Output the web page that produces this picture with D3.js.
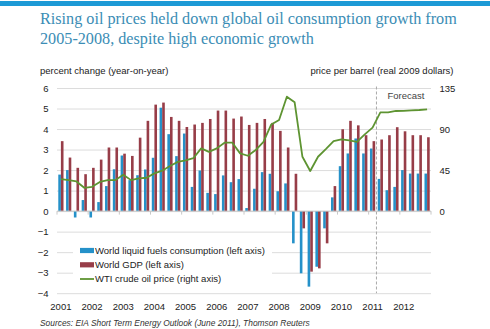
<!DOCTYPE html>
<html>
<head>
<meta charset="utf-8">
<script src="https://cdn.jsdelivr.net/npm/d3@7"></script>
<style>
  body { margin: 0; background: #fff; }
  svg text { font-family: "Liberation Sans", Arial, sans-serif; }
</style>
</head>
<body>
<svg id="chart" width="490" height="329"></svg>
<script>
// quarterly data, 2001 Q1 .. 2012 Q4
var years = [2001, 2002, 2003, 2004, 2005, 2006, 2007, 2008, 2009, 2010, 2011, 2012]
var quarters = []
years.forEach(function(y){
  for (var q = 1; q <= 4; q++) quarters.push(y + " Q" + q)
})

// world liquid fuels consumption, % change yoy (left axis)
var consumption = [1.78, 2.0, -0.31, 0.54, -0.31, 0.44, 1.22, 2.04,
  2.71, 1.51, 1.75, 2.03, 2.6, 5.04, 3.75, 2.68,
  3.78, 1.18, 1.98, 0.89, 0.83, 1.74, 1.41, 1.56,
  0.15, 1.09, 1.9, 1.82, 0.97, 1.35, -1.57, -3.03,
  -3.68, -2.71, -0.84, 0.67, 2.19, 2.81, 3.54, 2.81,
  3.05, 1.57, 1.02, 1.18, 2.0, 1.83, 1.83, 1.83]

// world GDP, % change yoy (left axis)
var gdp = [3.41, 2.61, 2.11, 1.8, 2.11, 2.51, 3.1, 3.1,
  2.8, 2.69, 3.58, 4.4, 5.19, 5.29, 4.59, 4.4,
  4.1, 4.22, 4.3, 4.49, 4.9, 4.9, 4.51, 4.61,
  4.2, 4.3, 4.49, 4.3, 3.91, 3.1, 1.82, -0.84,
  -2.95, -2.79, -1.57, 1.22, 3.99, 4.4, 4.18, 3.7,
  3.41, 3.49, 3.7, 4.09, 3.89, 3.7, 3.7, 3.6]

// WTI crude oil price, real 2009 $ per barrel (right axis)
var wti = [35, 34, 32.5, 25.6, 26.7, 32, 34, 34,
  40, 34, 36, 36.6, 41.4, 44.3, 49.4, 54,
  55.6, 58, 68.8, 65, 68.8, 75, 75, 63.3,
  60.7, 67, 76, 95, 100, 125.5, 119.3, 59.6,
  44, 59.6, 68, 76.8, 78.7, 77.6, 76, 84.2,
  91.5, 108.3, 108.3, 109.8, 110, 110.5, 110.9, 111.6]

var leftTicks = [-4, -3, -2, -1, 0, 1, 2, 3, 4, 5, 6]
var rightTicks = [0, 45, 90, 135]
var forecastStart = "2011 Q2"

var series = ["World liquid fuels consumption (left axis)", "World GDP (left axis)", "WTI crude oil price (right axis)"]
var colors = ["#2591c9", "#973d48", "#5e9432"]

var svg = d3.select("#chart")
var plotL = 57, plotR = 431, plotT = 88, plotB = 293.2

// top banner
svg.append("rect").attr("x", 0).attr("y", 1).attr("width", 490).attr("height", 5).attr("fill", "#1d9ad6")

// title
svg.append("text").attr("x", 40).attr("y", 23.5)
  .style("font-family", "'Liberation Serif', 'Times New Roman', serif")
  .attr("font-size", "16.2px").attr("fill", "#3b8db5")
  .text("Rising oil prices held down global oil consumption growth from")
svg.append("text").attr("x", 40).attr("y", 43.5)
  .style("font-family", "'Liberation Serif', 'Times New Roman', serif")
  .attr("font-size", "16.2px").attr("fill", "#3b8db5")
  .text("2005-2008, despite high economic growth")

// axis titles
svg.append("text").attr("x", 40).attr("y", 74).attr("font-size", "9.5px").attr("fill", "#222")
  .text("percent change (year-on-year)")
svg.append("text").attr("x", 453.5).attr("y", 74).attr("font-size", "9.5px").attr("fill", "#222")
  .attr("text-anchor", "end")
  .text("price per barrel (real 2009 dollars)")

var x0 = d3.scaleBand().domain(quarters).range([plotL, plotR]).paddingInner(0.33).paddingOuter(0.165)
var x1 = d3.scaleBand().domain(["c", "g"]).range([0, x0.bandwidth()])
var y = d3.scaleLinear().domain([-4, 6]).range([plotB, plotT])
var yR = d3.scaleLinear().domain([-90, 135]).range([plotB, plotT])

// left axis + gridlines
var gy = svg.append("g").attr("transform", "translate(" + plotL + ",0)")
  .call(d3.axisLeft(y).tickValues(leftTicks).tickSize(-(plotR - plotL)).tickPadding(8.5).tickFormat(d3.format("d")))
gy.select(".domain").remove()
gy.selectAll("line").attr("stroke", "#dcdcdc")
gy.selectAll("text").attr("font-size", "9.5px").attr("fill", "#222").style("font-family", "'Liberation Sans', Arial, sans-serif")

// right axis labels
var gr = svg.append("g").attr("transform", "translate(" + plotR + ",0)")
  .call(d3.axisRight(yR).tickValues(rightTicks).tickSize(0).tickPadding(8.5))
gr.select(".domain").remove()
gr.selectAll("text").attr("font-size", "9.5px").attr("fill", "#222").style("font-family", "'Liberation Sans', Arial, sans-serif")

// legend background hides part of the gridlines
svg.append("rect").attr("x", 73).attr("y", 236).attr("width", 199).attr("height", 52).attr("fill", "#fff")

// forecast divider
var half = x0.step() * x0.paddingInner() / 2
var fx = x0(forecastStart) - half
svg.append("line").attr("x1", fx).attr("x2", fx).attr("y1", 86.5).attr("y2", plotB)
  .attr("stroke", "#aaa").attr("stroke-dasharray", "3,2")
svg.append("text").attr("x", 406).attr("y", 98.5).attr("text-anchor", "middle")
  .attr("font-size", "9.5px").attr("fill", "#444").text("Forecast")

// bars
var bars = svg.append("g")
bars.selectAll(".cons").data(consumption).enter().append("rect")
  .attr("x", function(d, i){ return x0(quarters[i]) + x1("c") })
  .attr("width", x1.bandwidth())
  .attr("y", function(d){ return y(Math.max(0, d)) })
  .attr("height", function(d){ return Math.abs(y(d) - y(0)) })
  .attr("fill", colors[0])
bars.selectAll(".gdp").data(gdp).enter().append("rect")
  .attr("x", function(d, i){ return x0(quarters[i]) + x1("g") })
  .attr("width", x1.bandwidth())
  .attr("y", function(d){ return y(Math.max(0, d)) })
  .attr("height", function(d){ return Math.abs(y(d) - y(0)) })
  .attr("fill", colors[1])

// zero line with year ticks
svg.append("line").attr("x1", plotL).attr("x2", plotR).attr("y1", y(0)).attr("y2", y(0)).attr("stroke", "#c8c8c8")
var bounds = years.map(function(yr){ return x0(yr + " Q1") - half }).concat([plotR])
svg.selectAll(".ytick").data(bounds).enter().append("line")
  .attr("x1", function(d){ return d }).attr("x2", function(d){ return d })
  .attr("y1", y(0)).attr("y2", y(0) + 3.5).attr("stroke", "#c8c8c8")

// oil price line
var line = d3.line()
  .x(function(d, i){ return x0(quarters[i]) + x0.bandwidth() / 2 })
  .y(function(d){ return yR(d) })
svg.append("path").datum(wti).attr("d", line)
  .attr("fill", "none").attr("stroke", colors[2]).attr("stroke-width", 1.8).attr("stroke-linejoin", "round")

// year labels
svg.selectAll(".yr").data(years).enter().append("text")
  .attr("x", function(d){ return x0(d + " Q1") + x0.bandwidth() / 2 })
  .attr("y", 310).attr("text-anchor", "middle")
  .attr("font-size", "9.5px").attr("fill", "#222")
  .text(function(d){ return d })

// legend
var lg = svg.append("g")
var rowY = [250.5, 264.8, 279]
lg.append("rect").attr("x", 80).attr("y", rowY[0] - 2.6).attr("width", 14).attr("height", 5.2).attr("fill", colors[0])
lg.append("rect").attr("x", 80).attr("y", rowY[1] - 2.6).attr("width", 14).attr("height", 5.2).attr("fill", colors[1])
lg.append("line").attr("x1", 80).attr("x2", 94).attr("y1", rowY[2]).attr("y2", rowY[2]).attr("stroke", colors[2]).attr("stroke-width", 1.8)
lg.selectAll("text").data(series).enter().append("text")
  .attr("x", 95).attr("y", function(d, i){ return rowY[i] + 3.4 })
  .attr("font-size", "9.5px").attr("fill", "#222")
  .text(function(d){ return d })

// source note
svg.append("text").attr("x", 40).attr("y", 326).attr("font-size", "8.4px").attr("fill", "#333")
  .attr("font-style", "italic")
  .text("Sources: EIA Short Term Energy Outlook (June 2011), Thomson Reuters")
</script>
</body>
</html>
